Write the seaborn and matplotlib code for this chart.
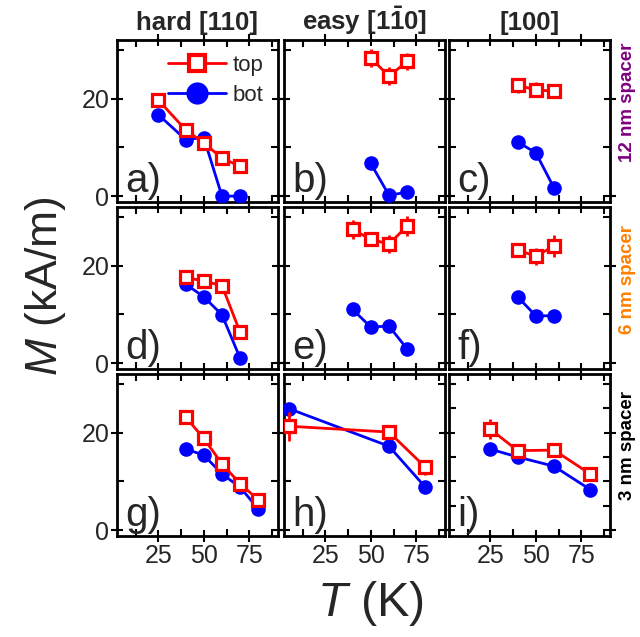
import numpy as np
import pandas as pd
import seaborn as sns
import matplotlib.pyplot as plt
from matplotlib.ticker import FixedLocator
from matplotlib.lines import Line2D

# ---- data (T in K, M in kA/m) ----
# row 1: 12 nm spacer
a_T_top = [25, 40, 50, 60, 70]
a_M_top = [19.7, 13.6, 10.9, 7.8, 6.1]
a_E_top = [0.5, 0.5, 0.5, 0.5, 0.5]
a_T_bot = [25, 40, 50, 60, 70]
a_M_bot = [16.7, 11.6, 12.0, 0.0, 0.0]

b_T_top = [50, 60, 70]
b_M_top = [28.3, 24.6, 27.6]
b_E_top = [1.8, 1.8, 1.8]
b_T_bot = [50, 60, 70]
b_M_bot = [6.7, 0.2, 0.8]

c_T_top = [40, 50, 60]
c_M_top = [22.7, 21.8, 21.5]
c_E_top = [1.5, 1.5, 0.8]
c_T_bot = [40, 50, 60]
c_M_bot = [11.1, 8.9, 1.7]

# row 2: 6 nm spacer
d_T_top = [40, 50, 60, 70]
d_M_top = [17.6, 16.8, 15.9, 6.3]
d_E_top = [1.0, 1.2, 0.8, 0.5]
d_T_bot = [40, 50, 60, 70]
d_M_bot = [16.2, 13.6, 9.9, 1.0]

e_T_top = [40, 50, 60, 70]
e_M_top = [27.4, 25.4, 24.4, 28.1]
e_E_top = [2.0, 1.2, 1.8, 2.0]
e_T_bot = [40, 50, 60, 70]
e_M_bot = [11.0, 7.4, 7.6, 2.9]

f_T_top = [40, 50, 60]
f_M_top = [23.2, 21.9, 24.0]
f_E_top = [1.5, 1.8, 2.2]
f_T_bot = [40, 50, 60]
f_M_bot = [13.6, 9.7, 9.7]

# row 3: 3 nm spacer
g_T_top = [40, 50, 60, 70, 80]
g_M_top = [23.2, 18.8, 13.6, 9.5, 6.2]
g_E_top = [0.5, 0.5, 0.5, 0.5, 0.5]
g_T_bot = [40, 50, 60, 70, 80]
g_M_bot = [16.6, 15.4, 11.5, 8.8, 4.3]

h_T_top = [5, 60, 80]
h_M_top = [21.3, 20.1, 12.9]
h_E_top = [3.0, 1.2, 1.5]
h_T_bot = [5, 60, 80]
h_M_bot = [24.9, 17.2, 8.8]

i_T_top = [25, 40, 60, 80]
i_M_top = [20.7, 16.3, 16.4, 11.5]
i_E_top = [2.0, 1.0, 0.8, 0.8]
i_T_bot = [25, 40, 60, 80]
i_M_bot = [16.6, 15.0, 13.1, 8.3]

panels = [
    ("a)", a_T_top, a_M_top, a_E_top, a_T_bot, a_M_bot),
    ("b)", b_T_top, b_M_top, b_E_top, b_T_bot, b_M_bot),
    ("c)", c_T_top, c_M_top, c_E_top, c_T_bot, c_M_bot),
    ("d)", d_T_top, d_M_top, d_E_top, d_T_bot, d_M_bot),
    ("e)", e_T_top, e_M_top, e_E_top, e_T_bot, e_M_bot),
    ("f)", f_T_top, f_M_top, f_E_top, f_T_bot, f_M_bot),
    ("g)", g_T_top, g_M_top, g_E_top, g_T_bot, g_M_bot),
    ("h)", h_T_top, h_M_top, h_E_top, h_T_bot, h_M_bot),
    ("i)", i_T_top, i_M_top, i_E_top, i_T_bot, i_M_bot),
]
col_titles = ["hard [110]", r"easy [1$\mathbf{\bar{1}}$0]", "[100]"]
row_labels = ["12 nm spacer", "6 nm spacer", "3 nm spacer"]
row_colors = ["#800080", "#FF8000", "black"]

sns.set_theme(style="ticks")
plt.rcParams['font.family'] = ['Liberation Sans', 'DejaVu Sans']
plt.rcParams['mathtext.fontset'] = 'custom'
plt.rcParams['mathtext.rm'] = 'Liberation Sans'
plt.rcParams['mathtext.it'] = 'Liberation Sans:italic'
plt.rcParams['mathtext.bf'] = 'Liberation Sans:bold'

W, H = 640, 637
fig = plt.figure(figsize=(W / 100, H / 100), dpi=100)

# panel boxes in pixels
col_left = [117, 284, 449]
row_top = [40, 207, 374]
pw, ph = 161, 162
# centre of the spacer labels on the right (pixels from top)
row_label_y = [102, 280, 445]

RED, BLUE = "#FF0000", "#0000FF"

for k, (lab, Tt, Mt, Et, Tb, Mb) in enumerate(panels):
    r, c = divmod(k, 3)
    ax = fig.add_axes([col_left[c] / W, (H - row_top[r] - ph) / H, pw / W, ph / H])
    top = pd.DataFrame({"T": Tt, "M": Mt})
    bot = pd.DataFrame({"T": Tb, "M": Mb})
    sns.lineplot(data=bot, x="T", y="M", ax=ax, color=BLUE, lw=2,
                 marker="o", markersize=10.5, markeredgewidth=0, mfc=BLUE,
                 zorder=3)
    ax.errorbar(Tt, Mt, yerr=Et, fmt="none", ecolor=RED, elinewidth=2,
                capsize=0, zorder=4)
    sns.lineplot(data=top, x="T", y="M", ax=ax, color=RED, lw=2,
                 marker="s", markersize=8, markeredgewidth=2.3,
                 mfc="white", mec=RED, zorder=5)

    ax.set_xlim(2.3, 90.8)
    ax.set_ylim(-1.2, 32.0)
    ax.set_xlabel("")
    ax.set_ylabel("")
    ax.xaxis.set_major_locator(FixedLocator([25, 50, 75]))
    ax.xaxis.set_minor_locator(FixedLocator([12.5, 37.5, 62.5, 87.5]))
    ax.yaxis.set_major_locator(FixedLocator([0, 20]))
    if lab == "i)":
        ax.yaxis.set_minor_locator(FixedLocator([5, 10, 15, 25, 30]))
    else:
        ax.yaxis.set_minor_locator(FixedLocator([10, 30]))
    ax.tick_params(which="major", direction="inout", length=9, width=1.5,
                   top=True, right=True, labelsize=18, pad=1, color="black")
    ax.tick_params(which="minor", direction="in", length=5, width=1.5,
                   top=True, right=True, color="black")
    if c != 0:
        ax.tick_params(labelleft=False)
    if r != 2:
        ax.tick_params(labelbottom=False)
    for s in ax.spines.values():
        s.set_linewidth(2)
        s.set_color("black")
    ax.text(0.05, 0.01, lab, transform=ax.transAxes, fontsize=29,
            ha="left", va="bottom")
    if r == 0:
        ax.set_title(col_titles[c], fontsize=18.5, fontweight="bold", pad=7)
    if c == 2:
        fig.text(627 / W, 1 - row_label_y[r] / H, row_labels[r], rotation=90,
                 fontsize=13.5, fontweight="bold", color=row_colors[r],
                 ha="center", va="center")
    if lab == "a)":
        handles = [
            Line2D([], [], color=RED, lw=2, marker="s", markersize=12,
                   mfc="white", mec=RED, markeredgewidth=3),
            Line2D([], [], color=BLUE, lw=2, marker="o", markersize=16,
                   mfc=BLUE, markeredgewidth=0),
        ]
        ax.legend(handles, ["top", "bot"], loc="upper right", frameon=False,
                  fontsize=16, handlelength=2.6, handletextpad=0.3,
                  borderaxespad=0.1, labelspacing=0.4,
                  bbox_to_anchor=(0.98, 0.975))

fig.text(45 / W, 1 - 286 / H, r"$M$ (kA/m)", rotation=90, fontsize=32,
         ha="center", va="center")
fig.text(370 / W, 1 - 603 / H, r"$T$ (K)", fontsize=35,
         ha="center", va="center")

fig.savefig("out.png", dpi=100)
